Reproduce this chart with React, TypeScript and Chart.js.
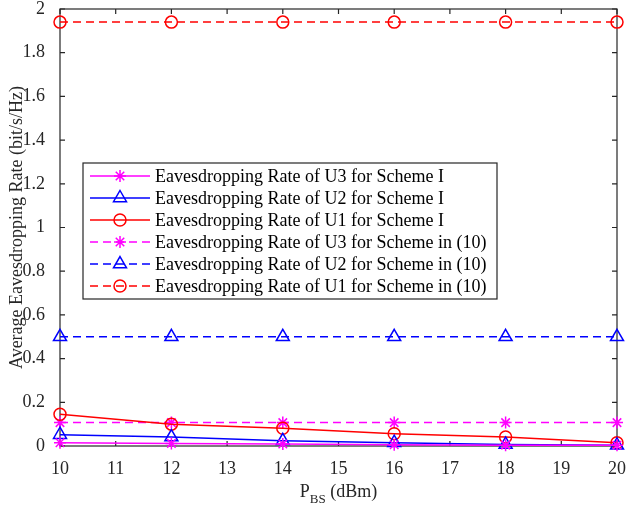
import React, { useEffect, useRef } from 'react';
import { Chart, registerables } from 'chart.js';

Chart.register(...registerables);

const xValues = [10, 12, 14, 16, 18, 20];
const u3SchemeI = [0.015, 0.012, 0.009, 0.006, 0.004, 0.003];
const u2SchemeI = [0.052, 0.041, 0.024, 0.015, 0.007, 0.003];
const u1SchemeI = [0.145, 0.1, 0.081, 0.056, 0.041, 0.015];
const u3Scheme10 = [0.107, 0.107, 0.107, 0.107, 0.107, 0.107];
const u2Scheme10 = [0.5, 0.5, 0.5, 0.5, 0.5, 0.5];
const u1Scheme10 = [1.94, 1.94, 1.94, 1.94, 1.94, 1.94];

const seriesLabels = [
  'Eavesdropping Rate of U3 for Scheme I',
  'Eavesdropping Rate of U2 for Scheme I',
  'Eavesdropping Rate of U1 for Scheme I',
  'Eavesdropping Rate of U3 for Scheme in (10)',
  'Eavesdropping Rate of U2 for Scheme in (10)',
  'Eavesdropping Rate of U1 for Scheme in (10)',
];
const seriesData = [u3SchemeI, u2SchemeI, u1SchemeI, u3Scheme10, u2Scheme10, u1Scheme10];
const seriesColors = ['#ff00ff', '#0000ff', '#ff0000', '#ff00ff', '#0000ff', '#ff0000'];
const seriesMarkers = ['star', 'triangle', 'circle', 'star', 'triangle', 'circle'];
const seriesDashed = [false, false, false, true, true, true];

const xTickValues = [10, 11, 12, 13, 14, 15, 16, 17, 18, 19, 20];
const yTickValues = [0, 0.2, 0.4, 0.6, 0.8, 1, 1.2, 1.4, 1.6, 1.8, 2];

const yTitle = 'Average Eavesdropping Rate (bit/s/Hz)';
const xTitleMain = 'P';
const xTitleSub = 'BS';
const xTitleRest = ' (dBm)';

const FONT = "'Liberation Serif', 'Times New Roman', serif";
const AXIS_COLOR = '#262626';
const DASH = [8, 5];

function markerRadius(m: string) {
  if (m === 'triangle') return 7.5;
  return 6;
}

function drawMarker(ctx: CanvasRenderingContext2D, m: string, x: number, y: number, color: string) {
  ctx.save();
  ctx.setLineDash([]);
  ctx.strokeStyle = color;
  ctx.lineWidth = 1.5;
  ctx.beginPath();
  if (m === 'circle') {
    ctx.arc(x, y, 6, 0, Math.PI * 2);
  } else if (m === 'triangle') {
    const r = 7.5;
    ctx.moveTo(x, y - r);
    ctx.lineTo(x + r * 0.866, y + r * 0.5);
    ctx.lineTo(x - r * 0.866, y + r * 0.5);
    ctx.closePath();
  } else {
    const r = 6;
    ctx.moveTo(x, y - r);
    ctx.lineTo(x, y + r);
    ctx.moveTo(x - r, y);
    ctx.lineTo(x + r, y);
    const d = r * 0.707;
    ctx.moveTo(x - d, y - d);
    ctx.lineTo(x + d, y + d);
    ctx.moveTo(x - d, y + d);
    ctx.lineTo(x + d, y - d);
  }
  ctx.stroke();
  ctx.restore();
}

const framePlugin = {
  id: 'frame',
  beforeDatasetsDraw(chart: any) {
    const { ctx, chartArea, scales } = chart;
    const { left, right, top, bottom } = chartArea;
    ctx.save();
    ctx.strokeStyle = AXIS_COLOR;
    ctx.lineWidth = 1.2;
    ctx.strokeRect(left, top, right - left, bottom - top);
    const tl = 5;
    ctx.beginPath();
    xTickValues.forEach((v) => {
      const px = scales.x.getPixelForValue(v);
      ctx.moveTo(px, bottom);
      ctx.lineTo(px, bottom - tl);
      ctx.moveTo(px, top);
      ctx.lineTo(px, top + tl);
    });
    yTickValues.forEach((v) => {
      const py = scales.y.getPixelForValue(v);
      ctx.moveTo(left, py);
      ctx.lineTo(left + tl, py);
      ctx.moveTo(right, py);
      ctx.lineTo(right - tl, py);
    });
    ctx.stroke();
    ctx.restore();
  },
  afterDraw(chart: any) {
    const { ctx, chartArea } = chart;
    const { left, right, top, bottom } = chartArea;
    ctx.save();
    ctx.fillStyle = AXIS_COLOR;
    ctx.font = `18px ${FONT}`;
    ctx.textAlign = 'center';
    ctx.textBaseline = 'middle';
    ctx.translate(17, (top + bottom) / 2);
    ctx.rotate(-Math.PI / 2);
    ctx.fillText(yTitle, 0, 0);
    ctx.restore();

    ctx.save();
    ctx.fillStyle = AXIS_COLOR;
    ctx.textBaseline = 'alphabetic';
    ctx.textAlign = 'left';
    const mainFont = `18px ${FONT}`;
    const subFont = `13px ${FONT}`;
    ctx.font = mainFont;
    const wMain = ctx.measureText(xTitleMain).width;
    const wRest = ctx.measureText(xTitleRest).width;
    ctx.font = subFont;
    const wSub = ctx.measureText(xTitleSub).width;
    const total = wMain + wSub + wRest;
    let cx = (left + right) / 2 - total / 2;
    const by = 497;
    ctx.font = mainFont;
    ctx.fillText(xTitleMain, cx, by);
    cx += wMain;
    ctx.font = subFont;
    ctx.fillText(xTitleSub, cx, by + 6);
    cx += wSub;
    ctx.font = mainFont;
    ctx.fillText(xTitleRest, cx, by);
    ctx.restore();

    ctx.save();
    const bx = left + 23;
    const by0 = top + 154;
    const bw = 414;
    const rowH = 22;
    const bh = 136;
    ctx.fillStyle = '#ffffff';
    ctx.fillRect(bx, by0, bw, bh);
    ctx.strokeStyle = AXIS_COLOR;
    ctx.lineWidth = 1.2;
    ctx.strokeRect(bx, by0, bw, bh);
    ctx.font = `18px ${FONT}`;
    ctx.textBaseline = 'middle';
    ctx.textAlign = 'left';
    seriesLabels.forEach((label, i) => {
      const ry = by0 + 13 + i * rowH;
      const color = seriesColors[i];
      ctx.save();
      ctx.strokeStyle = color;
      ctx.lineWidth = 1.5;
      ctx.setLineDash(seriesDashed[i] ? DASH : []);
      ctx.beginPath();
      ctx.moveTo(bx + 7, ry);
      ctx.lineTo(bx + 67, ry);
      ctx.stroke();
      ctx.restore();
      drawMarker(ctx, seriesMarkers[i], bx + 37, ry, color);
      ctx.fillStyle = '#000000';
      ctx.fillText(label, bx + 72, ry + 1);
    });
    ctx.restore();
  },
};

export default function App() {
  const canvasRef = useRef<HTMLCanvasElement | null>(null);

  useEffect(() => {
    if (!canvasRef.current) return;
    Chart.defaults.font.family = FONT;
    const datasets = seriesLabels.map((label, i) => ({
      label,
      data: xValues.map((x, j) => ({ x, y: seriesData[i][j] })),
      borderColor: seriesColors[i],
      backgroundColor: 'rgba(0,0,0,0)',
      borderWidth: 1.5,
      borderDash: seriesDashed[i] ? DASH : [],
      pointStyle: seriesMarkers[i] as any,
      pointRadius: markerRadius(seriesMarkers[i]),
      pointBorderWidth: 1.5,
      pointBorderColor: seriesColors[i],
      pointBackgroundColor: 'rgba(0,0,0,0)',
      tension: 0,
      clip: false as any,
    }));
    const chart = new Chart(canvasRef.current, {
      type: 'line',
      data: { datasets },
      options: {
        responsive: false,
        animation: false,
        devicePixelRatio: 1,
        layout: { padding: { top: 7, right: 7, left: 0, bottom: 0 } },
        plugins: {
          legend: { display: false },
          tooltip: { enabled: false },
        },
        scales: {
          x: {
            type: 'linear',
            min: 10,
            max: 20,
            grid: { display: false },
            border: { display: false },
            afterFit: (s: any) => {
              s.height = 62;
              s.paddingLeft = 0;
              s.paddingRight = 0;
            },
            afterBuildTicks: (s: any) => {
              s.ticks = xTickValues.map((v) => ({ value: v }));
            },
            ticks: {
              autoSkip: false,
              maxRotation: 0,
              padding: 4,
              color: AXIS_COLOR,
              font: { size: 18, family: FONT },
              callback: (v: any) => String(v),
            },
          },
          y: {
            type: 'linear',
            min: 0,
            max: 2,
            grid: { display: false },
            border: { display: false },
            afterFit: (s: any) => {
              s.width = 60;
              s.paddingTop = 0;
              s.paddingBottom = 0;
            },
            afterBuildTicks: (s: any) => {
              s.ticks = yTickValues.map((v) => ({ value: v }));
            },
            ticks: {
              autoSkip: false,
              padding: 7,
              color: AXIS_COLOR,
              font: { size: 18, family: FONT },
              callback: (v: any) => String(Number(Number(v).toFixed(1))),
            },
          },
        },
      },
      plugins: [framePlugin],
    });
    return () => chart.destroy();
  }, []);

  return (
    <div style={{ position: 'absolute', left: 0, top: 0, width: 626, height: 508, background: '#fff' }}>
      <canvas ref={canvasRef} width={626} height={508} style={{ display: 'block' }} />
    </div>
  );
}
